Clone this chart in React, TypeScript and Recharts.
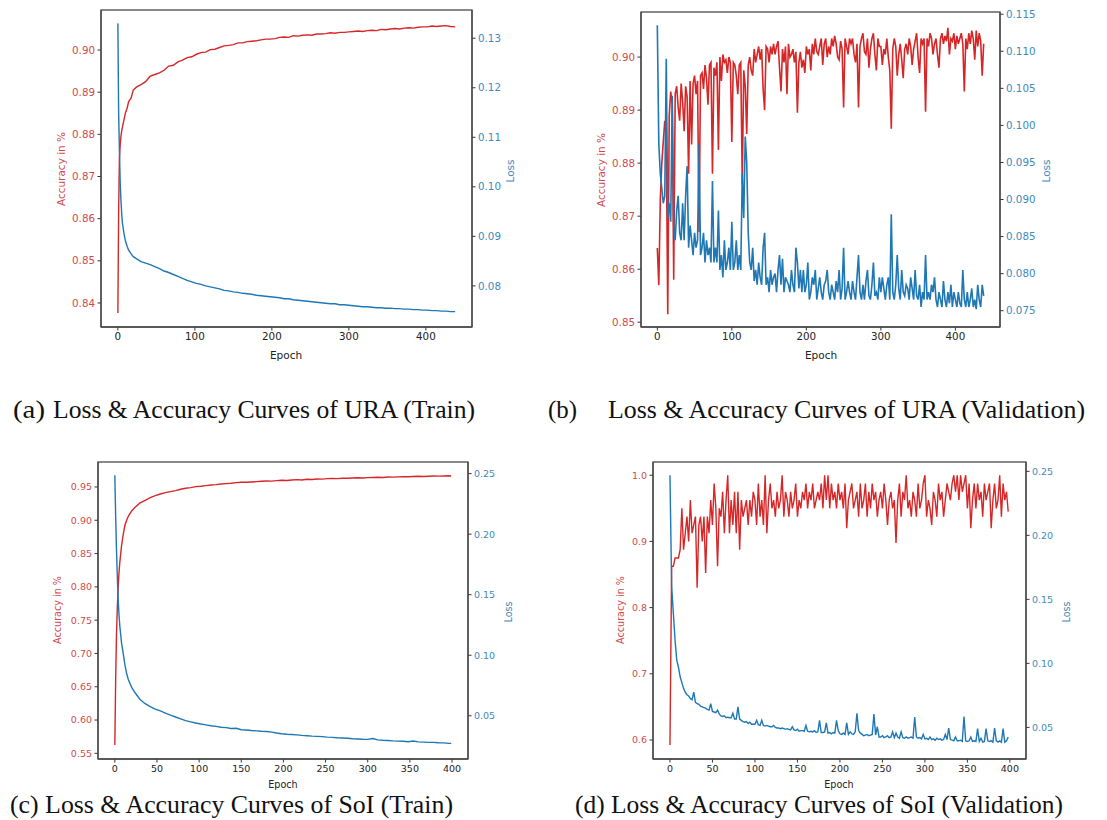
import { LineChart, Line, XAxis, YAxis } from "recharts";

// ---------------------------------------------------------------------------
// Colours / fonts
// ---------------------------------------------------------------------------

const RED = "#d62728";
const BLUE = "#1f77b4";
const RED_TEXT = "#cf4b4c";
const BLUE_TEXT = "#4189bb";
const SPINE = "#4a4a4a";
const TICK_FONT = "DejaVu Sans";
const CAPTION_FONT = "'Liberation Serif', 'Times New Roman', serif";

// ---------------------------------------------------------------------------
// Data: (a) URA train
// ---------------------------------------------------------------------------

const URA_TRAIN_EPOCH = [
  0, 1, 2, 3, 4, 5, 6, 8, 10, 12, 14, 17, 20,
  24, 30, 36, 42, 48, 54, 60, 66, 72, 78, 84, 90, 96, 102, 108, 114, 120, 126, 132, 138,
  144, 150, 156, 162, 168, 174, 180, 186, 192, 198, 204, 210, 216, 222, 228, 234, 240, 246,
  252, 258, 264, 270, 276, 282, 288, 294, 300, 306, 312, 318, 324, 330, 336, 342, 348, 354,
  360, 366, 372, 378, 384, 390, 396, 402, 408, 414, 420, 426, 432, 438,
];
const URA_TRAIN_ACC = [
  0.8376, 0.862, 0.874, 0.8775, 0.8795, 0.8808, 0.8818, 0.8835, 0.8852, 0.8862, 0.8878, 0.8885, 0.8905,
  0.8912, 0.8918, 0.8925, 0.8938, 0.8942, 0.8946, 0.8952, 0.8962, 0.8964, 0.8972,
  0.8976, 0.8982, 0.8984, 0.899, 0.8994, 0.8995, 0.9001, 0.9002, 0.9006, 0.901,
  0.9011, 0.9013, 0.9017, 0.9017, 0.902, 0.9021, 0.9022, 0.9024, 0.9026, 0.9026,
  0.9027, 0.903, 0.9031, 0.903, 0.9034, 0.9033, 0.9035, 0.9036, 0.9035, 0.9038,
  0.9038, 0.9039, 0.9041, 0.904, 0.9042, 0.9042, 0.9043, 0.9044, 0.9045, 0.9044,
  0.9046, 0.9047, 0.9046, 0.9049, 0.9048, 0.905, 0.9051, 0.905, 0.9052, 0.9053,
  0.9052, 0.9054, 0.9055, 0.9055, 0.9057, 0.9056, 0.9057, 0.9058, 0.9056, 0.9055,
];
const URA_TRAIN_LOSS = [
  0.133, 0.115, 0.1074, 0.101, 0.0973, 0.0945, 0.0926, 0.0905, 0.089, 0.088, 0.0872, 0.0865, 0.0859,
  0.0855, 0.0849, 0.0846, 0.0843, 0.0839, 0.0835, 0.083, 0.0827, 0.0823, 0.0819,
  0.0815, 0.0811, 0.0808, 0.0805, 0.0803, 0.08, 0.0798, 0.0796, 0.0794, 0.0791,
  0.079, 0.0788, 0.0787, 0.0785, 0.0784, 0.0783, 0.0781, 0.078, 0.0779, 0.0778,
  0.0777, 0.0776, 0.0774, 0.0774, 0.0772, 0.0771, 0.077, 0.0769, 0.0768, 0.0767,
  0.0766, 0.0765, 0.0764, 0.0764, 0.0762, 0.0762, 0.0761, 0.076, 0.0759, 0.0758,
  0.0758, 0.0757, 0.0756, 0.0756, 0.0755, 0.0755, 0.0754, 0.0754, 0.0753, 0.0753,
  0.0752, 0.0752, 0.0751, 0.0751, 0.075, 0.075, 0.0749, 0.0749, 0.0748, 0.0748,
];

// ---------------------------------------------------------------------------
// Data: (b) URA validation, read every 2 epochs
// ---------------------------------------------------------------------------

const VAL_STEP = 2;

const URA_VAL_ACC = [
  0.864, 0.857, 0.873, 0.88, 0.884, 0.888, 0.885, 0.8515, 0.889, 0.8935,
  0.891, 0.858, 0.893, 0.8945, 0.8905, 0.888, 0.895, 0.8915, 0.886, 0.8945,
  0.8925, 0.878, 0.8955, 0.8835, 0.895, 0.8965, 0.893, 0.8955, 0.867, 0.8965,
  0.897, 0.894, 0.8985, 0.896, 0.891, 0.8985, 0.899, 0.878, 0.898, 0.8965,
  0.899, 0.8825, 0.9, 0.8955, 0.9005, 0.899, 0.8995, 0.897, 0.9, 0.899,
  0.884, 0.899, 0.8985, 0.8965, 0.893, 0.8985, 0.899, 0.876, 0.8975, 0.8945,
  0.8855, 0.8985, 0.9, 0.8975, 0.8965, 0.9015, 0.899, 0.9005, 0.902, 0.8995,
  0.9015, 0.894, 0.89, 0.902, 0.9015, 0.899, 0.902, 0.9005, 0.9025, 0.9005,
  0.902, 0.903, 0.898, 0.8935, 0.9015, 0.899, 0.902, 0.893, 0.9025, 0.9,
  0.9005, 0.9015, 0.899, 0.901, 0.8895, 0.899, 0.901, 0.898, 0.8995, 0.897,
  0.902, 0.9005, 0.9015, 0.8975, 0.9025, 0.9005, 0.9035, 0.901, 0.9005, 0.902,
  0.9035, 0.8985, 0.9025, 0.9035, 0.9, 0.902, 0.9005, 0.9035, 0.902, 0.904,
  0.9025, 0.9, 0.8995, 0.903, 0.9015, 0.8905, 0.9035, 0.902, 0.9005, 0.9035,
  0.9025, 0.9035, 0.9005, 0.899, 0.9025, 0.8905, 0.902, 0.9035, 0.9045, 0.901,
  0.9005, 0.9035, 0.898, 0.9015, 0.9035, 0.9045, 0.9005, 0.8975, 0.9035, 0.902,
  0.902, 0.8985, 0.9015, 0.9005, 0.9035, 0.9, 0.8975, 0.8865, 0.9015, 0.9035,
  0.902, 0.8965, 0.9005, 0.9025, 0.8995, 0.896, 0.9015, 0.9025, 0.9005, 0.9035,
  0.902, 0.8985, 0.9015, 0.903, 0.9045, 0.9, 0.897, 0.9035, 0.9025, 0.9035,
  0.8897, 0.9035, 0.902, 0.9045, 0.9035, 0.9005, 0.9025, 0.9035, 0.9005, 0.898,
  0.9035, 0.9045, 0.9025, 0.904, 0.903, 0.9055, 0.9005, 0.9035, 0.903, 0.9045,
  0.9015, 0.904, 0.9025, 0.9035, 0.9045, 0.9025, 0.8935, 0.9035, 0.9015, 0.9045,
  0.9025, 0.905, 0.9035, 0.8995, 0.905, 0.902, 0.9045, 0.903, 0.8965, 0.9025,
];
const URA_VAL_LOSS = [
  0.1135, 0.0975, 0.0935, 0.0915, 0.0895, 0.0905, 0.109, 0.0875, 0.0895, 0.087,
  0.104, 0.0865, 0.0845, 0.0885, 0.0905, 0.0855, 0.0845, 0.0895, 0.0845, 0.0905,
  0.0945, 0.0835, 0.0865, 0.0845, 0.0825, 0.0855, 0.0835, 0.0845, 0.0975, 0.0825,
  0.0835, 0.0855, 0.0815, 0.0845, 0.0825, 0.0835, 0.0815, 0.0925, 0.0815, 0.0835,
  0.0815, 0.0885, 0.0805, 0.0825, 0.0795, 0.0845, 0.0805, 0.0815, 0.0835, 0.0805,
  0.087, 0.0805, 0.0815, 0.0845, 0.0805, 0.0825, 0.0805, 0.0935, 0.0875, 0.0985,
  0.095, 0.0855, 0.0815, 0.0805, 0.0835, 0.079, 0.0805, 0.0785, 0.0815, 0.0795,
  0.0785, 0.0835, 0.0855, 0.0785, 0.0795, 0.0775, 0.0805, 0.0785, 0.0795, 0.08,
  0.0775, 0.0805, 0.0825, 0.0785, 0.082, 0.0775, 0.0795, 0.079, 0.0785, 0.0775,
  0.0805, 0.0785, 0.0775, 0.0835, 0.0815, 0.078, 0.0805, 0.0775, 0.0805, 0.0775,
  0.0785, 0.0815, 0.0765, 0.0775, 0.0795, 0.0785, 0.0805, 0.0765, 0.078, 0.0795,
  0.0775, 0.0765, 0.0785, 0.079, 0.0805, 0.0775, 0.0765, 0.0785, 0.0775, 0.0765,
  0.079, 0.0775, 0.0805, 0.0765, 0.078, 0.0835, 0.0765, 0.0775, 0.079, 0.0775,
  0.0765, 0.079, 0.0775, 0.0765, 0.0795, 0.0825, 0.0775, 0.0765, 0.0785, 0.0765,
  0.079, 0.0805, 0.077, 0.0765, 0.0785, 0.0815, 0.077, 0.0775, 0.0765, 0.0795,
  0.0775, 0.0795, 0.078, 0.0765, 0.0785, 0.0795, 0.0765, 0.088, 0.0775, 0.0765,
  0.0785, 0.0825, 0.078, 0.0765, 0.0805, 0.0775, 0.077, 0.0785, 0.078, 0.0765,
  0.0795, 0.078, 0.0765, 0.0805, 0.077, 0.0765, 0.0785, 0.0755, 0.0775, 0.0765,
  0.0825, 0.0765, 0.0775, 0.0765, 0.0785, 0.0775, 0.0795, 0.0765, 0.0755, 0.0775,
  0.0765, 0.0755, 0.079, 0.0765, 0.0755, 0.0775, 0.076, 0.0785, 0.0755, 0.0775,
  0.0765, 0.0755, 0.0775, 0.076, 0.0755, 0.0805, 0.0765, 0.0755, 0.0775, 0.0755,
  0.0765, 0.078, 0.0755, 0.0765, 0.0752, 0.0785, 0.0765, 0.0755, 0.0785, 0.077,
];

// ---------------------------------------------------------------------------
// Data: (c) SoI train
// ---------------------------------------------------------------------------

const SOI_TRAIN_EPOCH = [
  0, 1, 2, 3, 4, 5, 6, 8, 10, 12, 14, 16, 18, 20,
  24, 30, 36, 42, 48, 54, 60, 66, 72, 78, 84, 90, 96, 102, 108, 114, 120, 126, 132, 138,
  144, 150, 156, 162, 168, 174, 180, 186, 192, 198, 204, 210, 216, 222, 228, 234, 240, 246,
  252, 258, 264, 270, 276, 282, 288, 294, 300, 306, 312, 318, 324, 330, 336, 342, 348, 354,
  360, 366, 372, 378, 384, 390, 396, 399,
];
const SOI_TRAIN_ACC = [
  0.5625, 0.66, 0.73, 0.77, 0.8, 0.822, 0.838, 0.862, 0.879, 0.8925, 0.9, 0.906, 0.91, 0.914,
  0.9195, 0.926, 0.93, 0.934, 0.937, 0.9395, 0.9415, 0.943, 0.9445, 0.9465,
  0.948, 0.949, 0.9505, 0.951, 0.952, 0.953, 0.9535, 0.9545, 0.955, 0.9555,
  0.9565, 0.957, 0.957, 0.9575, 0.958, 0.9585, 0.959, 0.9588, 0.9595, 0.96,
  0.9598, 0.9605, 0.961, 0.9605, 0.9615, 0.9612, 0.962, 0.9618, 0.9625, 0.9628,
  0.9625, 0.9632, 0.963, 0.9635, 0.9638, 0.9635, 0.964, 0.9642, 0.9645, 0.9643,
  0.965, 0.9648, 0.9652, 0.9655, 0.9653, 0.9658, 0.966, 0.9658, 0.9662, 0.9665,
  0.9663, 0.9665, 0.9668, 0.9665,
];
const SOI_TRAIN_LOSS = [
  0.2486, 0.215, 0.1867, 0.164, 0.1455, 0.133, 0.1235, 0.11, 0.1014, 0.092, 0.0849, 0.08, 0.0767, 0.0735,
  0.069, 0.0635, 0.06, 0.0575, 0.0555, 0.054, 0.0522, 0.0505, 0.049, 0.0475,
  0.046, 0.045, 0.044, 0.0432, 0.0425, 0.0418, 0.0412, 0.0405, 0.0402, 0.0395,
  0.0397, 0.0385, 0.0382, 0.0378, 0.0375, 0.0372, 0.037, 0.0365, 0.0358, 0.0352,
  0.0348, 0.0345, 0.0342, 0.0338, 0.0335, 0.0332, 0.033, 0.0328, 0.0324, 0.0322,
  0.0318, 0.0316, 0.0314, 0.031, 0.0308, 0.0306, 0.0305, 0.0312, 0.0301, 0.0298,
  0.0296, 0.0293, 0.0291, 0.0289, 0.0286, 0.0292, 0.0284, 0.0282, 0.028, 0.028,
  0.0277, 0.0276, 0.0272, 0.0272,
];

// ---------------------------------------------------------------------------
// Data: (d) SoI validation, read every 2 epochs
// ---------------------------------------------------------------------------

const SOI_VAL_ACC = [
  0.5925, 0.8625, 0.8625, 0.875, 0.875, 0.875, 0.8875, 0.95, 0.8875, 0.9125,
  0.9375, 0.9, 0.9625, 0.9125, 0.925, 0.9375, 0.83, 0.925, 0.9375, 0.9,
  0.9375, 0.8525, 0.9375, 0.9125, 0.9625, 0.925, 0.9875, 0.95, 0.8625, 0.95,
  0.9375, 0.975, 0.9125, 0.9625, 1.0, 0.9125, 0.9625, 0.925, 0.975, 0.9125,
  0.975, 0.8875, 0.9625, 0.9375, 0.95, 0.9625, 0.925, 0.9625, 0.9375, 0.975,
  0.9625, 0.925, 0.9875, 0.9375, 0.9625, 0.925, 1.0, 0.9125, 0.9625, 0.9875,
  0.95, 0.9625, 0.9375, 0.975, 0.95, 0.9625, 1.0, 0.9375, 0.975, 0.9625,
  0.9375, 0.975, 0.95, 0.9625, 0.9875, 0.9375, 0.9625, 0.95, 0.975, 0.9625,
  0.9875, 0.95, 0.975, 0.9625, 0.9875, 0.95, 0.9625, 0.975, 0.9625, 0.9875,
  0.95, 1.0, 0.9625, 1.0, 0.95, 0.9875, 0.9625, 0.975, 0.95, 0.9875,
  0.9625, 0.975, 0.95, 0.9875, 0.92, 0.9625, 0.975, 0.9875, 0.95, 0.9625,
  0.975, 0.9375, 0.9875, 0.95, 0.9625, 0.9875, 0.9375, 0.975, 0.95, 0.9875,
  0.9625, 0.975, 0.9375, 0.9625, 0.975, 0.95, 0.9875, 0.9625, 0.925, 0.9625,
  0.975, 0.95, 0.9625, 0.8975, 0.9625, 0.9875, 0.9375, 0.975, 0.9625, 1.0,
  0.95, 0.9625, 0.9375, 0.975, 0.9625, 0.9375, 0.9875, 0.95, 0.9625, 0.9875,
  1.0, 0.9375, 0.9625, 0.95, 0.925, 0.975, 0.9625, 0.9375, 0.9875, 0.9625,
  0.975, 0.9375, 0.9625, 0.9875, 0.975, 0.9625, 0.9875, 1.0, 0.975, 1.0,
  0.9625, 1.0, 0.975, 0.9875, 1.0, 0.95, 0.9875, 0.92, 0.9625, 0.9875,
  0.95, 0.9875, 0.9625, 0.975, 0.9375, 0.9875, 0.9625, 0.975, 0.9875, 0.92,
  0.9625, 0.9875, 0.95, 0.9625, 1.0, 0.9375, 0.9875, 0.9625, 0.975, 0.945,
];
const SOI_VAL_LOSS = [
  0.2469, 0.16, 0.139, 0.118, 0.1025, 0.097, 0.0895, 0.085, 0.0805, 0.0775,
  0.0755, 0.0745, 0.0725, 0.0715, 0.0775, 0.0695, 0.0685, 0.068, 0.0665, 0.066,
  0.0655, 0.065, 0.064, 0.0635, 0.0685, 0.0625, 0.062, 0.0615, 0.0635, 0.0605,
  0.059, 0.0585, 0.059, 0.0575, 0.058, 0.0575, 0.0575, 0.061, 0.0565, 0.0565,
  0.066, 0.0565, 0.0555, 0.0545, 0.054, 0.0545, 0.053, 0.054, 0.0525, 0.0525,
  0.0525, 0.0555, 0.052, 0.0515, 0.0555, 0.0515, 0.051, 0.0515, 0.051, 0.0505,
  0.0505, 0.0515, 0.05, 0.0495, 0.0495, 0.049, 0.0495, 0.049, 0.0485, 0.049,
  0.0485, 0.048, 0.0505, 0.048, 0.0475, 0.0485, 0.047, 0.0475, 0.0475, 0.047,
  0.0515, 0.047, 0.0465, 0.047, 0.0465, 0.0475, 0.046, 0.0465, 0.0555, 0.046,
  0.046, 0.0465, 0.0535, 0.0455, 0.046, 0.045, 0.046, 0.0455, 0.0555, 0.0475,
  0.045, 0.0445, 0.0455, 0.0445, 0.0535, 0.0445, 0.0465, 0.045, 0.0445, 0.0465,
  0.061, 0.0475, 0.0455, 0.0445, 0.0435, 0.044, 0.0445, 0.0435, 0.044, 0.0445,
  0.0605, 0.044, 0.0505, 0.0425, 0.0425, 0.0435, 0.042, 0.0425, 0.0435, 0.042,
  0.0425, 0.0465, 0.042, 0.0455, 0.0425, 0.0415, 0.0465, 0.042, 0.0415, 0.0425,
  0.0415, 0.042, 0.0425, 0.0415, 0.058, 0.0425, 0.0415, 0.042, 0.041, 0.0445,
  0.041, 0.0415, 0.0405, 0.0425, 0.0405, 0.041, 0.04, 0.0415, 0.0405, 0.041,
  0.04, 0.0405, 0.0445, 0.0405, 0.0495, 0.0405, 0.04, 0.0395, 0.0425, 0.0395,
  0.0395, 0.04, 0.039, 0.0585, 0.0395, 0.039, 0.0395, 0.0425, 0.039, 0.0395,
  0.039, 0.049, 0.039, 0.0415, 0.0385, 0.039, 0.049, 0.0395, 0.039, 0.0395,
  0.0385, 0.0495, 0.0395, 0.0385, 0.0395, 0.0385, 0.049, 0.0385, 0.0395, 0.0425,
];

// ---------------------------------------------------------------------------
// Tick labels
// ---------------------------------------------------------------------------

const URA_EPOCH_TICKS = [0, 100, 200, 300, 400];
const SOI_EPOCH_TICKS = [0, 50, 100, 150, 200, 250, 300, 350, 400];
const URA_TRAIN_ACC_TICKS = [0.84, 0.85, 0.86, 0.87, 0.88, 0.89, 0.9];
const URA_TRAIN_LOSS_TICKS = [0.08, 0.09, 0.1, 0.11, 0.12, 0.13];
const URA_VAL_ACC_TICKS = [0.85, 0.86, 0.87, 0.88, 0.89, 0.9];
const URA_VAL_LOSS_TICKS = [0.075, 0.08, 0.085, 0.09, 0.095, 0.1, 0.105, 0.11, 0.115];
const SOI_TRAIN_ACC_TICKS = [0.55, 0.6, 0.65, 0.7, 0.75, 0.8, 0.85, 0.9, 0.95];
const SOI_LOSS_TICKS = [0.05, 0.1, 0.15, 0.2, 0.25];
const SOI_VAL_ACC_TICKS = [0.6, 0.7, 0.8, 0.9, 1.0];

// ---------------------------------------------------------------------------
// Helpers
// ---------------------------------------------------------------------------

type Row = { epoch: number; acc: number; loss: number };

function buildRows(epochs: number[], acc: number[], loss: number[]): Row[] {
  return epochs.map((e, i) => ({ epoch: e, acc: acc[i], loss: loss[i] }));
}

function stepEpochs(values: number[], step: number): number[] {
  return values.map((_, i) => i * step);
}

interface PanelProps {
  rows: Row[];
  left: number;
  top: number;
  width: number;
  height: number;
  // plot box, relative to the panel
  box: { x0: number; x1: number; y0: number; y1: number };
  xDomain: [number, number];
  xTicks: number[];
  accDomain: [number, number];
  accTicks: number[];
  accDigits: number;
  lossDomain: [number, number];
  lossTicks: number[];
  lossDigits: number;
  fontSize: number;
  lineWidth: number;
}

function Panel(p: PanelProps) {
  const axisLine = { stroke: SPINE, strokeWidth: 1.3 };
  const tickLine = { stroke: "#333", strokeWidth: 1 };
  const tickFont = { fontSize: p.fontSize, fontFamily: TICK_FONT };
  return (
    <div style={{ position: "absolute", left: p.left, top: p.top, width: p.width, height: p.height }}>
      <LineChart
        width={p.width}
        height={p.height}
        data={p.rows}
        margin={{ top: p.box.y0, right: 0, bottom: 0, left: 0 }}
      >
        <XAxis
          dataKey="epoch"
          type="number"
          domain={p.xDomain}
          ticks={p.xTicks}
          allowDataOverflow
          height={p.height - p.box.y1}
          axisLine={axisLine}
          tickLine={tickLine}
          tickSize={3.5}
          tickMargin={2.5}
          interval={0}
          tick={{ ...tickFont, fill: "#222" }}
        />
        <YAxis
          yAxisId="acc"
          orientation="left"
          type="number"
          domain={p.accDomain}
          ticks={p.accTicks}
          allowDataOverflow
          width={p.box.x0}
          axisLine={axisLine}
          tickLine={tickLine}
          tickSize={3.5}
          tickMargin={2.5}
          interval={0}
          tick={{ ...tickFont, fill: RED_TEXT }}
          tickFormatter={(v: number) => v.toFixed(p.accDigits)}
        />
        <YAxis
          yAxisId="loss"
          orientation="right"
          type="number"
          domain={p.lossDomain}
          ticks={p.lossTicks}
          allowDataOverflow
          width={p.width - p.box.x1}
          axisLine={axisLine}
          tickLine={tickLine}
          tickSize={3.5}
          tickMargin={2.5}
          interval={0}
          tick={{ ...tickFont, fill: BLUE_TEXT }}
          tickFormatter={(v: number) => v.toFixed(p.lossDigits)}
        />
        <Line
          yAxisId="acc"
          type="linear"
          dataKey="acc"
          stroke={RED}
          strokeWidth={p.lineWidth}
          dot={false}
          isAnimationActive={false}
        />
        <Line
          yAxisId="loss"
          type="linear"
          dataKey="loss"
          stroke={BLUE}
          strokeWidth={p.lineWidth}
          dot={false}
          isAnimationActive={false}
        />
      </LineChart>
      {/* full frame (matplotlib draws all four spines) */}
      <svg
        width={p.width}
        height={p.height}
        style={{ position: "absolute", left: 0, top: 0, pointerEvents: "none" }}
      >
        <rect
          x={p.box.x0}
          y={p.box.y0}
          width={p.box.x1 - p.box.x0}
          height={p.box.y1 - p.box.y0}
          fill="none"
          stroke={SPINE}
          strokeWidth={1.3}
        />
      </svg>
    </div>
  );
}

function VLabel({ x, y, text, color, size }: { x: number; y: number; text: string; color: string; size: number }) {
  return (
    <text
      transform={`translate(${x},${y}) rotate(-90)`}
      textAnchor="middle"
      dominantBaseline="central"
      fontFamily={TICK_FONT}
      fontSize={size}
      fill={color}
    >
      {text}
    </text>
  );
}

function HLabel({ x, y, text, size }: { x: number; y: number; text: string; size: number }) {
  return (
    <text x={x} y={y} textAnchor="middle" dominantBaseline="central" fontFamily={TICK_FONT} fontSize={size} fill="#222">
      {text}
    </text>
  );
}

function Caption({ x, y, text, length }: { x: number; y: number; text: string; length: number }) {
  return (
    <text
      x={x}
      y={y}
      style={{ fontFamily: CAPTION_FONT }}
      fontSize={25.5}
      fill="#111"
      textLength={length}
      lengthAdjust="spacingAndGlyphs"
    >
      {text}
    </text>
  );
}

// ---------------------------------------------------------------------------
// App
// ---------------------------------------------------------------------------

export default function App() {
  const uraTrain = buildRows(URA_TRAIN_EPOCH, URA_TRAIN_ACC, URA_TRAIN_LOSS);
  const uraVal = buildRows(stepEpochs(URA_VAL_ACC, VAL_STEP), URA_VAL_ACC, URA_VAL_LOSS);
  const soiTrain = buildRows(SOI_TRAIN_EPOCH, SOI_TRAIN_ACC, SOI_TRAIN_LOSS);
  const soiVal = buildRows(stepEpochs(SOI_VAL_ACC, VAL_STEP), SOI_VAL_ACC, SOI_VAL_LOSS);

  return (
    <div style={{ position: "absolute", left: 0, top: 0, width: 1107, height: 820, background: "#fff", overflow: "hidden" }}>
      <Panel
        rows={uraTrain}
        left={0}
        top={0}
        width={540}
        height={370}
        box={{ x0: 101, x1: 472, y0: 10, y1: 327 }}
        xDomain={[-21.9, 459.9]}
        xTicks={URA_EPOCH_TICKS}
        accDomain={[0.8343, 0.9095]}
        accTicks={URA_TRAIN_ACC_TICKS}
        accDigits={2}
        lossDomain={[0.0717, 0.1357]}
        lossTicks={URA_TRAIN_LOSS_TICKS}
        lossDigits={2}
        fontSize={10.3}
        lineWidth={1.4}
      />
      <Panel
        rows={uraVal}
        left={560}
        top={0}
        width={547}
        height={370}
        box={{ x0: 81, x1: 440, y0: 12, y1: 327 }}
        xDomain={[-21.9, 459.9]}
        xTicks={URA_EPOCH_TICKS}
        accDomain={[0.8491, 0.9085]}
        accTicks={URA_VAL_ACC_TICKS}
        accDigits={2}
        lossDomain={[0.0728, 0.1153]}
        lossTicks={URA_VAL_LOSS_TICKS}
        lossDigits={3}
        fontSize={10.3}
        lineWidth={1.6}
      />
      <Panel
        rows={soiTrain}
        left={0}
        top={440}
        width={540}
        height={340}
        box={{ x0: 98, x1: 468, y0: 22, y1: 319 }}
        xDomain={[-19.95, 418.95]}
        xTicks={SOI_EPOCH_TICKS}
        accDomain={[0.5415, 0.9875]}
        accTicks={SOI_TRAIN_ACC_TICKS}
        accDigits={2}
        lossDomain={[0.0143, 0.2596]}
        lossTicks={SOI_LOSS_TICKS}
        lossDigits={2}
        fontSize={9.5}
        lineWidth={1.4}
      />
      <Panel
        rows={soiVal}
        left={560}
        top={440}
        width={547}
        height={340}
        box={{ x0: 93, x1: 466, y0: 22, y1: 319 }}
        xDomain={[-19.95, 418.95]}
        xTicks={SOI_EPOCH_TICKS}
        accDomain={[0.5713, 1.02]}
        accTicks={SOI_VAL_ACC_TICKS}
        accDigits={1}
        lossDomain={[0.0253, 0.2573]}
        lossTicks={SOI_LOSS_TICKS}
        lossDigits={2}
        fontSize={9.5}
        lineWidth={1.4}
      />
      <svg
        width={1107}
        height={820}
        style={{ position: "absolute", left: 0, top: 0, pointerEvents: "none" }}
      >
        <VLabel x={61} y={169} text="Accuracy in %" color={RED_TEXT} size={10.5} />
        <VLabel x={510} y={171} text="Loss" color={BLUE_TEXT} size={10.5} />
        <HLabel x={286} y={355} text="Epoch" size={10.5} />

        <VLabel x={601} y={170} text="Accuracy in %" color={RED_TEXT} size={10.5} />
        <VLabel x={1046} y={171} text="Loss" color={BLUE_TEXT} size={10.5} />
        <HLabel x={821} y={355} text="Epoch" size={10.5} />

        <VLabel x={57} y={610} text="Accuracy in %" color={RED_TEXT} size={9.6} />
        <VLabel x={508} y={612} text="Loss" color={BLUE_TEXT} size={9.6} />
        <HLabel x={283} y={784} text="Epoch" size={9.6} />

        <VLabel x={620} y={610} text="Accuracy in %" color={RED_TEXT} size={9.6} />
        <VLabel x={1066} y={612} text="Loss" color={BLUE_TEXT} size={9.6} />
        <HLabel x={839} y={784} text="Epoch" size={9.6} />

        <Caption x={13} y={418} text="(a)" length={32} />
        <Caption x={53} y={418} text="Loss & Accuracy Curves of URA (Train)" length={422} />
        <Caption x={548} y={418} text="(b)" length={29} />
        <Caption x={608} y={418} text="Loss & Accuracy Curves of URA (Validation)" length={477} />
        <Caption x={10} y={813} text="(c) Loss & Accuracy Curves of SoI (Train)" length={443} />
        <Caption x={575} y={813} text="(d) Loss & Accuracy Curves of SoI (Validation)" length={488} />
      </svg>
    </div>
  );
}
